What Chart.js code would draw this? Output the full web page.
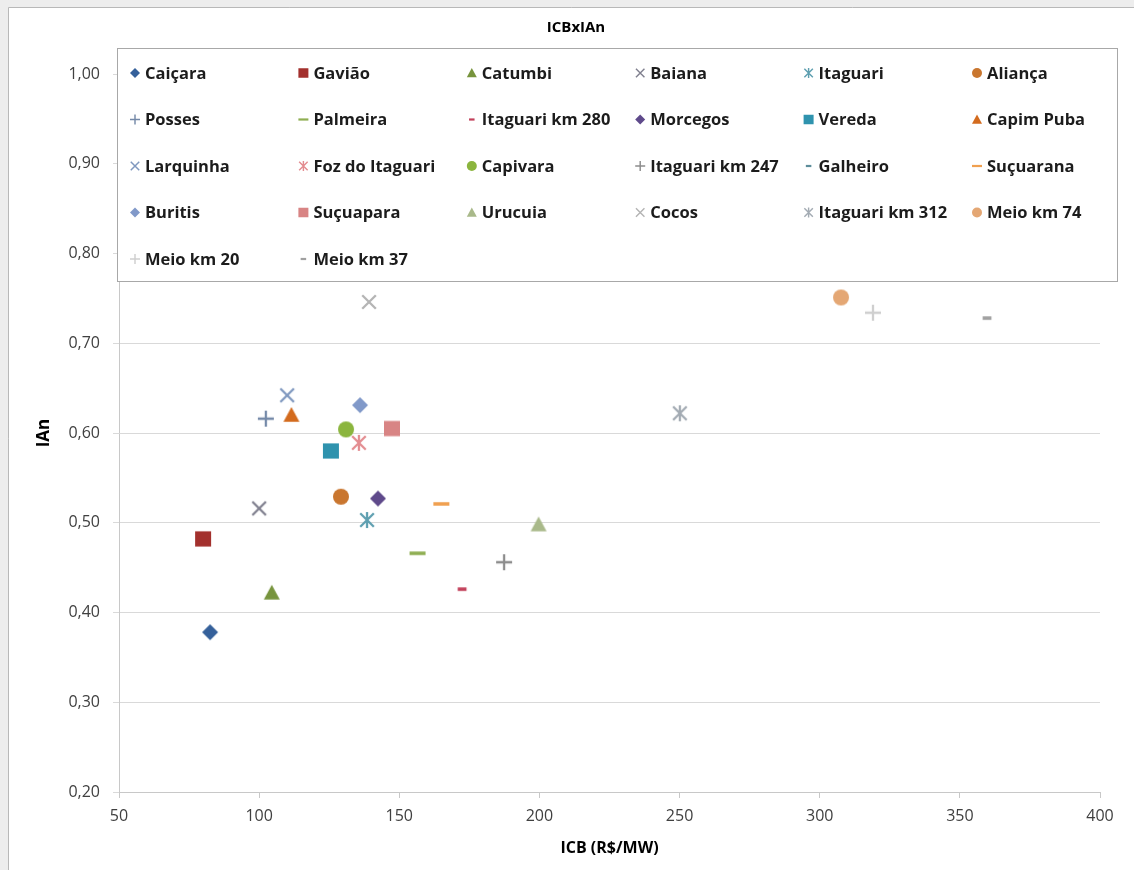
<!DOCTYPE html>
<html>
<head>
<meta charset="utf-8">
<script src="https://cdn.jsdelivr.net/npm/chart.js@4"></script>
<style>
  body { margin: 0; background: #fff; }
  #wrap { width: 1134px; height: 870px; }
</style>
</head>
<body>
<div id="wrap"><canvas id="myChart" width="1134" height="870"></canvas></div>
<script>
// dados
var chartTitle = 'ICBxIAn';
var series = ['Caiçara', 'Gavião', 'Catumbi', 'Baiana', 'Itaguari', 'Aliança',
  'Posses', 'Palmeira', 'Itaguari km 280', 'Morcegos', 'Vereda', 'Capim Puba',
  'Larquinha', 'Foz do Itaguari', 'Capivara', 'Itaguari km 247', 'Galheiro', 'Suçuarana',
  'Buritis', 'Suçuapara', 'Urucuia', 'Cocos', 'Itaguari km 312', 'Meio km 74',
  'Meio km 20', 'Meio km 37'];
var icb = [82.5, 80.0, 104.5, 100.0, 138.5, 129.2,
  102.4, 156.5, 172.4, 142.4, 125.6, 111.5,
  110.0, 135.6, 131.0, 187.4, null, 165.0,
  136.0, 147.4, 199.7, 139.2, 250.1, 307.6,
  319.0, 359.7];
var ian = [0.378, 0.482, 0.422, 0.516, 0.503, 0.529,
  0.616, 0.466, 0.426, 0.527, 0.580, 0.620,
  0.642, 0.589, 0.604, 0.456, null, 0.521,
  0.631, 0.605, 0.498, 0.746, 0.622, 0.751,
  0.734, 0.728];
var xTicks = [50, 100, 150, 200, 250, 300, 350, 400];
var yTicks = [0.2, 0.3, 0.4, 0.5, 0.6, 0.7, 0.8, 0.9, 1.0];

// estilo dos marcadores (estilo Excel)
var markers = ['diamond', 'square', 'triangle', 'x', 'star', 'circle',
  'plus', 'dash', 'shortdash', 'diamond', 'square', 'triangle',
  'x', 'star', 'circle', 'plus', 'shortdash', 'dash',
  'diamond', 'square', 'triangle', 'x', 'star', 'circle',
  'plus', 'shortdash'];
var colors = ['#35609a', '#a3302d', '#77943d', '#80808f', '#5e9fb0', '#c9762f',
  '#7489a8', '#8fae52', '#c2405a', '#5f4a8b', '#2f93ae', '#d36b1e',
  '#7f98bf', '#e38c90', '#8bb53e', '#8c8c8c', '#5d8d9a', '#f0a050',
  '#8199c9', '#d88484', '#a9b98a', '#b4b4b4', '#a3abb3', '#e4a774',
  '#cfcfcf', '#a0a0a0'];

function drawMarker(ctx, style, x, y, r, color) {
  ctx.save();
  ctx.fillStyle = color;
  ctx.strokeStyle = color;
  ctx.lineWidth = Math.max(1.2, r / 3.5);
  ctx.lineCap = 'butt';
  ctx.beginPath();
  if (style === 'diamond') {
    ctx.moveTo(x, y - r); ctx.lineTo(x + r, y); ctx.lineTo(x, y + r); ctx.lineTo(x - r, y);
    ctx.closePath(); ctx.fill();
  } else if (style === 'square') {
    ctx.fillRect(x - r, y - r * 0.95, r * 2, r * 1.9);
  } else if (style === 'triangle') {
    ctx.moveTo(x, y - r); ctx.lineTo(x + r, y + r * 0.85); ctx.lineTo(x - r, y + r * 0.85);
    ctx.closePath(); ctx.fill();
  } else if (style === 'circle') {
    ctx.arc(x, y, r, 0, Math.PI * 2); ctx.fill();
  } else if (style === 'x' || style === 'star') {
    var k = r * 0.85;
    ctx.moveTo(x - k, y - k); ctx.lineTo(x + k, y + k);
    ctx.moveTo(x + k, y - k); ctx.lineTo(x - k, y + k);
    if (style === 'star') { ctx.moveTo(x, y - r); ctx.lineTo(x, y + r); }
    ctx.stroke();
  } else if (style === 'plus') {
    ctx.moveTo(x - r, y); ctx.lineTo(x + r, y);
    ctx.moveTo(x, y - r); ctx.lineTo(x, y + r);
    ctx.stroke();
  } else if (style === 'dash') {
    ctx.fillRect(x - r, y - r * 0.22, r * 2, r * 0.44);
  } else if (style === 'shortdash') {
    ctx.fillRect(x - r * 0.55, y - r * 0.22, r * 1.1, r * 0.44);
  }
  ctx.restore();
}

function markerImage(style, color) {
  var c = document.createElement('canvas');
  c.width = 20; c.height = 20;
  drawMarker(c.getContext('2d'), style, 10, 10, 8, color);
  return c;
}

var datasets = series.map(function (name, i) {
  var pts = [];
  if (icb[i] !== null && ian[i] !== null) pts.push({x: icb[i], y: ian[i]});
  return {
    label: name,
    data: pts,
    pointStyle: markerImage(markers[i], colors[i]),
    backgroundColor: colors[i],
    borderColor: colors[i],
    pointRadius: 8,
    showLine: false
  };
});

var frame = {
  id: 'frame',
  beforeDraw: function (chart) {
    var ctx = chart.ctx;
    ctx.save();
    ctx.fillStyle = '#ededed';
    ctx.fillRect(0, 0, chart.width, chart.height);
    ctx.fillStyle = '#ffffff';
    ctx.fillRect(9, 8, chart.width, chart.height);
    ctx.strokeStyle = '#b8b8b8';
    ctx.lineWidth = 1;
    ctx.beginPath();
    ctx.moveTo(8.5, chart.height); ctx.lineTo(8.5, 7.5); ctx.lineTo(chart.width, 7.5);
    ctx.stroke();
    ctx.restore();
  }
};

// legenda sobreposta ao gráfico, 6 colunas como no Excel
var legendBox = {
  id: 'legendBox',
  afterDraw: function (chart) {
    var ctx = chart.ctx;
    ctx.save();
    ctx.fillStyle = '#000';
    ctx.font = 'bold 15px "Open Sans"';
    ctx.textAlign = 'center';
    ctx.textBaseline = 'middle';
    ctx.fillText(chartTitle, 576, 28);

    ctx.fillStyle = '#ffffff';
    ctx.fillRect(117, 48, 1000, 233);
    ctx.strokeStyle = '#a8a8a8';
    ctx.lineWidth = 1;
    ctx.strokeRect(117.5, 48.5, 1000, 233);
    ctx.font = 'bold 16.5px "Open Sans"';
    ctx.textAlign = 'left';
    chart.data.datasets.forEach(function (ds, i) {
      var mx = 135 + (i % 6) * 168.4;
      var my = 73 + Math.floor(i / 6) * 46.5;
      drawMarker(ctx, markers[i], mx, my, 5, colors[i]);
      ctx.fillStyle = '#1c1c1c';
      ctx.fillText(ds.label, mx + 10, my + 1);
    });
    ctx.restore();
  }
};

var ctx = document.getElementById('myChart').getContext('2d');

var myChart = new Chart(ctx, {
  type: 'scatter',
  data: { datasets: datasets },
  options: {
    responsive: false,
    animation: false,
    layout: { padding: { left: 10, right: 34, top: 74, bottom: 10 } },
    plugins: {
      legend: { display: false },
      tooltip: { enabled: false },
      title: { display: false }
    },
    scales: {
      x: {
        type: 'linear',
        min: 50, max: 400,
        afterFit: function (s) { s.height = 68; },
        afterBuildTicks: function (s) { s.ticks = xTicks.map(function (v) { return {value: v}; }); },
        grid: { drawOnChartArea: false, color: '#c8c8c8', tickLength: 6 },
        border: { color: '#c8c8c8' },
        ticks: { color: '#404040', padding: 9, font: { family: 'Open Sans', size: 16 } },
        title: {
          display: true, text: 'ICB (R$/MW)', color: '#000',
          font: { family: 'Open Sans', size: 16, weight: 'bold', lineHeight: 1.2 },
          padding: { top: 0, bottom: 2 }
        }
      },
      y: {
        type: 'linear',
        min: 0.2, max: 1.0,
        afterFit: function (s) { s.width = 109; },
        afterBuildTicks: function (s) { s.ticks = yTicks.map(function (v) { return {value: v}; }); },
        grid: { color: '#d9d9d9', tickLength: 6 },
        border: { color: '#c8c8c8' },
        ticks: {
          color: '#404040', padding: 13,
          font: { family: 'Open Sans', size: 16 },
          callback: function (v) { return v.toFixed(2).replace('.', ','); }
        },
        title: {
          display: true, text: 'IAn', color: '#000',
          font: { family: 'Open Sans', size: 17, weight: 'bold', lineHeight: 1.2 },
          padding: { top: 24, bottom: 0 }
        }
      }
    }
  },
  plugins: [frame, legendBox]
});
</script>
</body>
</html>
